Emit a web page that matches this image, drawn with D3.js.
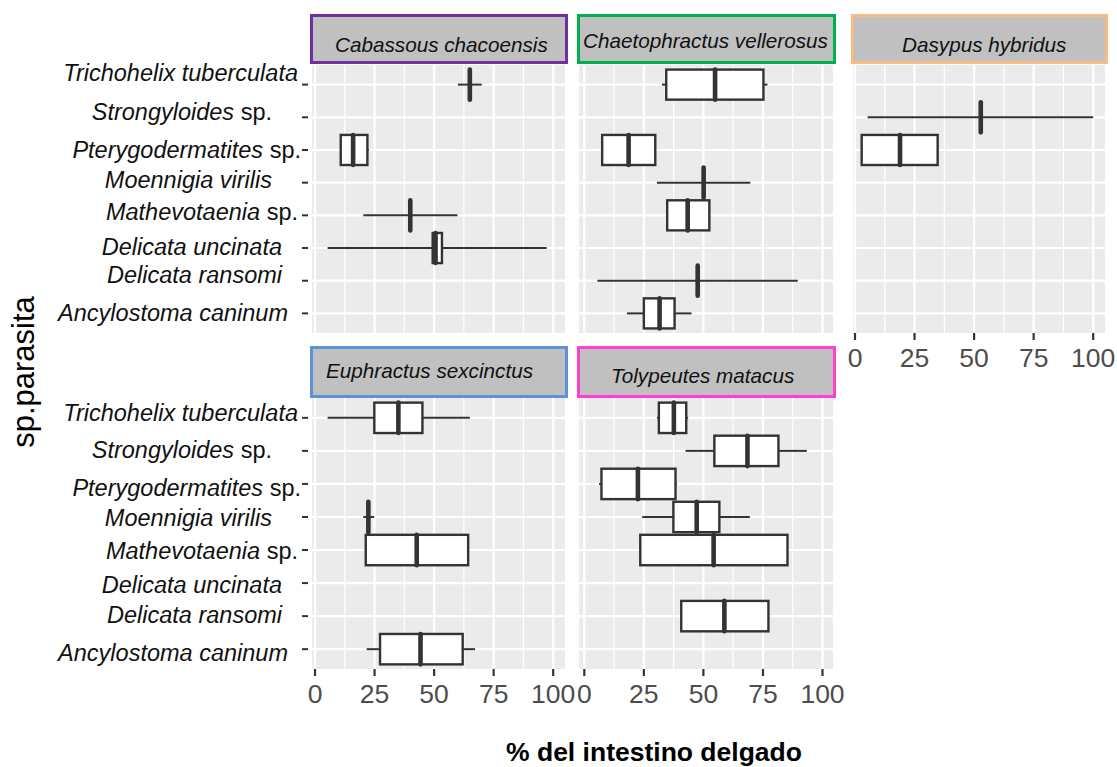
<!DOCTYPE html>
<html>
<head>
<meta charset="utf-8">
<script src="https://cdn.jsdelivr.net/npm/d3@7"></script>
<style>
  body { margin: 0; background: #fff; }
  svg { display: block; }
  text { font-family: "Liberation Sans", Arial, sans-serif; }
</style>
</head>
<body>
<svg id="chart" width="1117" height="767"></svg>
<script>
// Host species (one facet each) and parasite categories (y axis, top to bottom)
const hosts = [
  "Cabassous chacoensis",
  "Chaetophractus vellerosus",
  "Dasypus hybridus",
  "Euphractus sexcinctus",
  "Tolypeutes matacus"
];
const parasites = [
  "Trichohelix tuberculata",
  "Strongyloides sp.",
  "Pterygodermatites sp.",
  "Moennigia virilis",
  "Mathevotaenia sp.",
  "Delicata uncinata",
  "Delicata ransomi",
  "Ancylostoma caninum"
];
const xTicks = [0, 25, 50, 75, 100];

// Box statistics: [parasite, lower whisker, Q1, median, Q3, upper whisker] (% of small intestine)
const cabassous = [
  ["Trichohelix tuberculata", 60, 65, 65, 65, 70],
  ["Pterygodermatites sp.", 10.5, 10.8, 16, 22, 22.6],
  ["Mathevotaenia sp.", 20.3, 40, 40, 40, 59.8],
  ["Delicata uncinata", 5.3, 49.4, 50.6, 53.3, 97.2]
];
const chaetophractus = [
  ["Trichohelix tuberculata", 32.6, 34.4, 54.9, 75.2, 76.9],
  ["Pterygodermatites sp.", 7.5, 7.5, 18.6, 29.8, 29.8],
  ["Moennigia virilis", 30.5, 50.1, 50.1, 50.1, 69.7],
  ["Mathevotaenia sp.", 34.8, 34.8, 43.4, 52.5, 52.5],
  ["Delicata ransomi", 5.5, 47.6, 47.6, 47.6, 89.6],
  ["Ancylostoma caninum", 17.9, 25, 31.6, 37.9, 45]
];
const dasypus = [
  ["Strongyloides sp.", 5.3, 52.8, 52.8, 52.8, 100],
  ["Pterygodermatites sp.", 2.8, 2.8, 18.9, 34.7, 34.7]
];
const euphractus = [
  ["Trichohelix tuberculata", 5.3, 24.9, 35, 45.1, 65],
  ["Moennigia virilis", 20.3, 22.4, 22.4, 22.4, 24.8],
  ["Mathevotaenia sp.", 21.3, 21.3, 42.7, 64.3, 64.3],
  ["Ancylostoma caninum", 21.7, 27.3, 44.3, 62, 67.2]
];
const tolypeutes = [
  ["Trichohelix tuberculata", 30.5, 31.3, 37.6, 42.8, 43.6],
  ["Strongyloides sp.", 42.5, 54.6, 68.5, 81.5, 93.4],
  ["Pterygodermatites sp.", 6.2, 7.2, 22.5, 38.3, 38.8],
  ["Moennigia virilis", 24.3, 37.4, 47.2, 56.7, 69.5],
  ["Mathevotaenia sp.", 23.5, 23.5, 54.3, 85.3, 85.3],
  ["Delicata ransomi", 40.7, 40.7, 58.8, 77.3, 77.3]
];
const hostStats = [cabassous, chaetophractus, dasypus, euphractus, tolypeutes];

// ---- layout and styling ----
const stripColours = ["#7030a0", "#00b050", "#f8bb86", "#5b93d8", "#ff3fd2"];
const cols = [
  { left: 312, width: 253, zero: 315 },
  { left: 579, width: 254, zero: 584.3 },
  { left: 853, width: 252, zero: 855 }
];
const rows = [
  { top: 65, height: 268, stripTop: 14, stripH: 50 },
  { top: 398, height: 271, stripTop: 346, stripH: 52 }
];
const cells = [[0, 0], [1, 0], [2, 0], [0, 1], [1, 1]];
const stripText = [[25, 38], [6, 34], [51, 38], [16, 32], [34, 37]];
const labelRight = [298, 272, 301, 272, 298, 282, 282, 288];
const labelDy = [
  [-3.6, 2.7, 8, 5.4, 4.7, 7, 2.3, 7.6],
  [3, 7, 11.9, 8.8, 8.8, 9.7, 6.7, 11.6]
];
const ink = "#333333";

const svg = d3.select("#chart");

hosts.forEach((host, i) => {
  const [ci, ri] = cells[i];
  const col = cols[ci], row = rows[ri];
  const x = d3.scaleLinear().domain([0, 100]).range([col.zero, col.zero + 238.2]);
  const y = d3.scalePoint().domain(parasites)
    .range([row.top, row.top + row.height]).padding(0.6);
  const step = y.step();
  const boxH = step * 0.92;
  const g = svg.append("g");

  // panel background
  g.append("rect")
    .attr("x", col.left).attr("y", row.top)
    .attr("width", col.width).attr("height", row.height)
    .attr("fill", "#ebebeb");

  const inside = v => x(v) >= col.left && x(v) <= col.left + col.width;

  // minor vertical grid
  g.selectAll(".minor").data(d3.range(-12.5, 112.6, 25).filter(inside))
    .join("line")
    .attr("x1", d => x(d)).attr("x2", d => x(d))
    .attr("y1", row.top).attr("y2", row.top + row.height)
    .attr("stroke", "#fff").attr("stroke-width", 1.2);

  // major vertical grid
  g.selectAll(".major").data(xTicks.filter(inside))
    .join("line")
    .attr("x1", d => x(d)).attr("x2", d => x(d))
    .attr("y1", row.top).attr("y2", row.top + row.height)
    .attr("stroke", "#fff").attr("stroke-width", 2.2);

  // horizontal grid at categories
  g.selectAll(".hgrid").data(parasites)
    .join("line")
    .attr("x1", col.left).attr("x2", col.left + col.width)
    .attr("y1", d => y(d)).attr("y2", d => y(d))
    .attr("stroke", "#fff").attr("stroke-width", 2.2);

  // boxplots
  const stats = hostStats[i];
  const bx = g.selectAll(".box").data(stats).join("g");
  bx.append("line") // lower whisker
    .attr("x1", d => x(d[1])).attr("x2", d => x(d[2]))
    .attr("y1", d => y(d[0])).attr("y2", d => y(d[0]))
    .attr("stroke", ink).attr("stroke-width", 2);
  bx.append("line") // upper whisker
    .attr("x1", d => x(d[4])).attr("x2", d => x(d[5]))
    .attr("y1", d => y(d[0])).attr("y2", d => y(d[0]))
    .attr("stroke", ink).attr("stroke-width", 2);
  bx.append("rect")
    .attr("x", d => x(d[2])).attr("width", d => x(d[4]) - x(d[2]))
    .attr("y", d => y(d[0]) - boxH / 2).attr("height", boxH)
    .attr("fill", "#fff").attr("stroke", ink).attr("stroke-width", 2.4);
  bx.append("line") // median
    .attr("x1", d => x(d[3])).attr("x2", d => x(d[3]))
    .attr("y1", d => y(d[0]) - boxH / 2).attr("y2", d => y(d[0]) + boxH / 2)
    .attr("stroke", ink).attr("stroke-width", 4.6).attr("stroke-linecap", "round");

  // strip
  g.append("rect")
    .attr("x", col.left - 0.5).attr("y", row.stripTop + 1.5)
    .attr("width", col.width + 2).attr("height", row.stripH - 3)
    .attr("fill", "#c0c0c0")
    .attr("stroke", stripColours[i]).attr("stroke-width", 3);
  g.append("text")
    .attr("x", col.left - 2 + stripText[i][0])
    .attr("y", row.stripTop + stripText[i][1])
    .attr("font-size", 20.7).attr("font-style", "italic").attr("fill", "#111")
    .text(host);

  // x axis on the lowest panel of each column
  if (ri === 1 || ci === 2) {
    const yb = row.top + row.height;
    g.selectAll(".xt").data(xTicks).join("line")
      .attr("x1", d => x(d)).attr("x2", d => x(d))
      .attr("y1", yb).attr("y2", yb + 7)
      .attr("stroke", ink).attr("stroke-width", 2.2);
    g.selectAll(".xl").data(xTicks).join("text")
      .attr("x", d => x(d)).attr("y", yb + 34)
      .attr("text-anchor", "middle").attr("font-size", 26.5).attr("fill", "#4d4d4d")
      .text(d => d);
  }

  // y axis on the leftmost column
  if (ci === 0) {
    g.selectAll(".yt").data(parasites).join("line")
      .attr("x1", col.left - 10).attr("x2", col.left - 4)
      .attr("y1", d => y(d)).attr("y2", d => y(d))
      .attr("stroke", ink).attr("stroke-width", 2);
    const lbl = g.selectAll(".yl").data(parasites).join("text")
      .attr("x", (d, k) => labelRight[k])
      .attr("y", (d, k) => y(d) + labelDy[ri][k])
      .attr("text-anchor", "end").attr("font-size", 23.5).attr("fill", "#111");
    lbl.each(function (d) {
      const t = d3.select(this);
      if (d.endsWith(" sp.")) {
        t.append("tspan").attr("font-style", "italic").text(d.slice(0, -4));
        t.append("tspan").text(" sp.");
      } else {
        t.append("tspan").attr("font-style", "italic").text(d);
      }
    });
  }
});

// axis titles
svg.append("text")
  .attr("x", 654).attr("y", 761)
  .attr("text-anchor", "middle").attr("font-size", 26.5).attr("font-weight", "bold")
  .attr("fill", "#000")
  .text("% del intestino delgado");
svg.append("text")
  .attr("transform", "translate(34,372) rotate(-90)")
  .attr("text-anchor", "middle").attr("font-size", 31).attr("fill", "#000")
  .text("sp.parasita");
</script>
</body>
</html>
